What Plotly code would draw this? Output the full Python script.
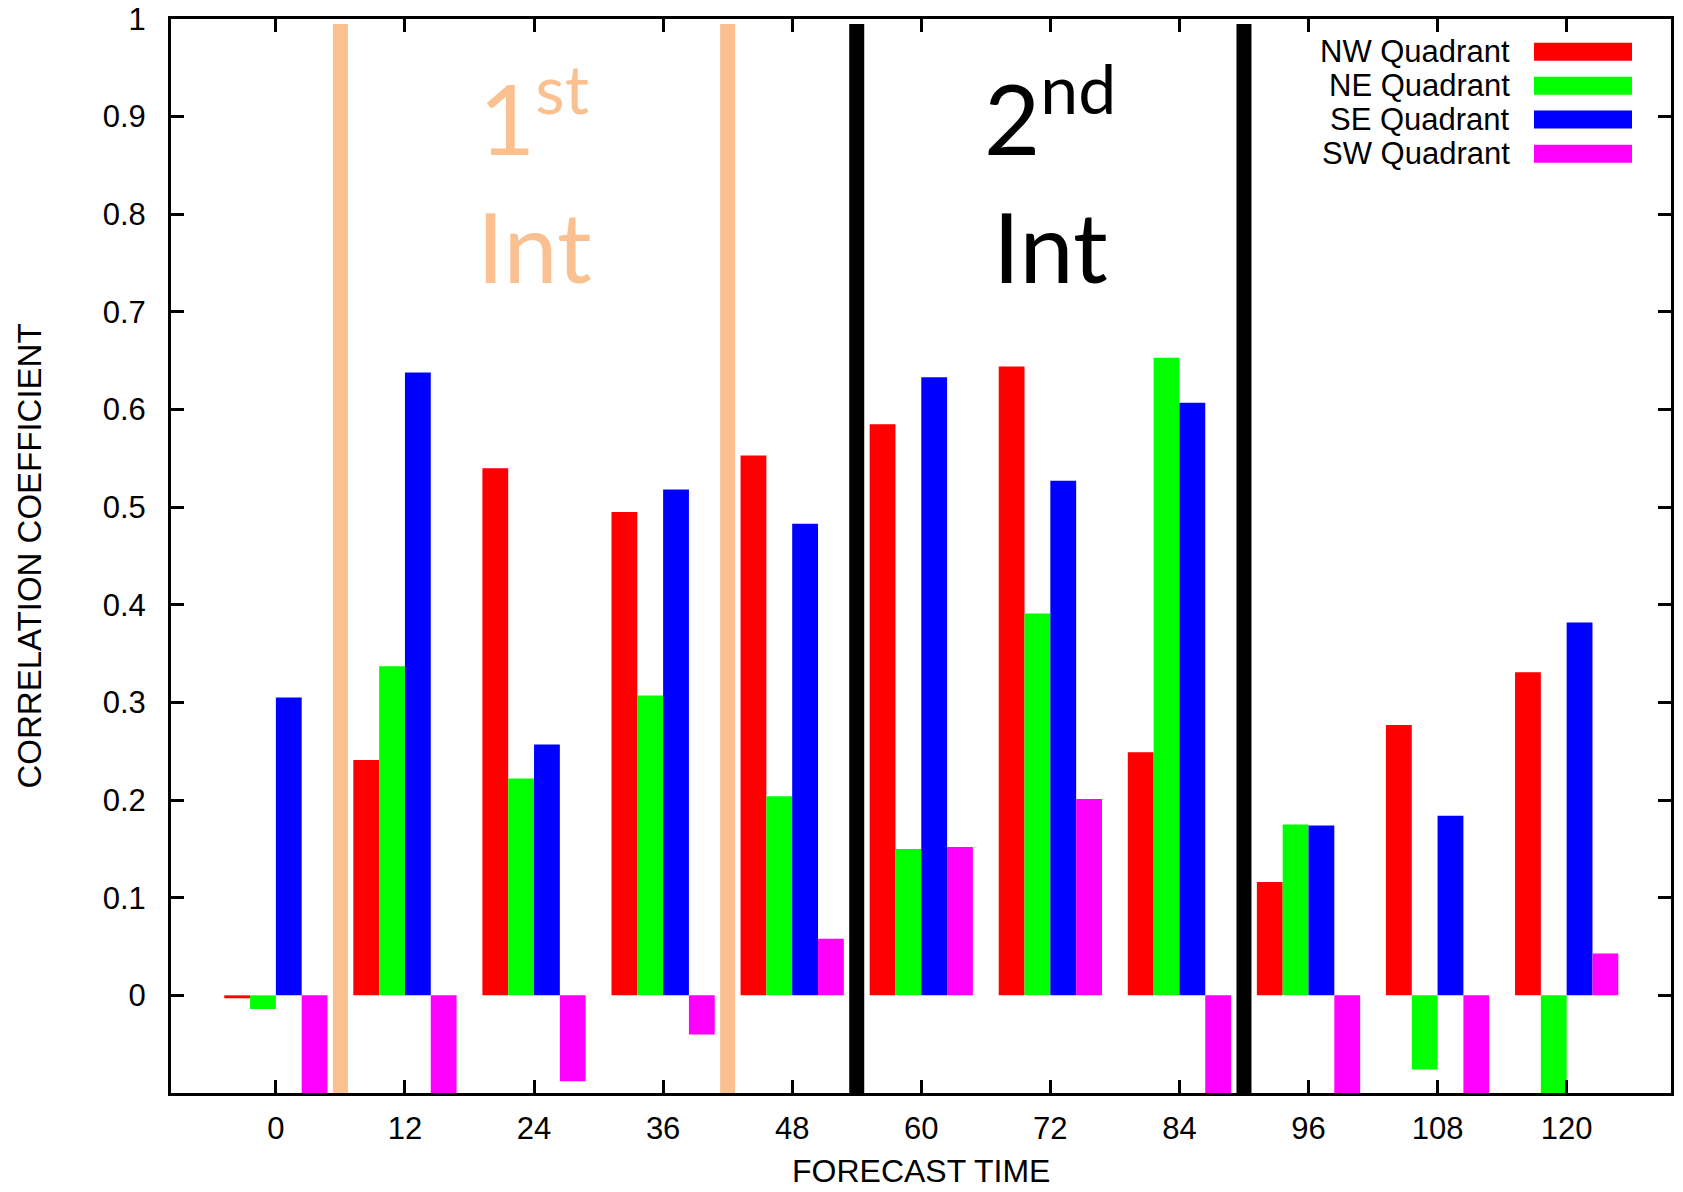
import plotly.graph_objects as go

# Forecast lead times (hours)
forecast_time = [0, 12, 24, 36, 48, 60, 72, 84, 96, 108, 120]

# Correlation coefficient per quadrant
nw_quadrant = [-0.003, 0.241, 0.540, 0.495, 0.553, 0.585, 0.644, 0.249, 0.116, 0.277, 0.331]
ne_quadrant = [-0.014, 0.337, 0.222, 0.307, 0.204, 0.150, 0.391, 0.653, 0.175, -0.076, -0.13]
se_quadrant = [0.305, 0.638, 0.257, 0.518, 0.483, 0.633, 0.527, 0.607, 0.174, 0.184, 0.382]
sw_quadrant = [-0.13, -0.13, -0.088, -0.040, 0.058, 0.152, 0.201, -0.13, -0.13, -0.13, 0.043]

series_names = ["NW Quadrant", "NE Quadrant", "SE Quadrant", "SW Quadrant"]
series_values = [nw_quadrant, ne_quadrant, se_quadrant, sw_quadrant]
series_colors = ["#ff0000", "#00ff00", "#0000ff", "#ff00ff"]

y_ticks = [0, 0.1, 0.2, 0.3, 0.4, 0.5, 0.6, 0.7, 0.8, 0.9, 1]
y_tick_text = ["0", "0.1", "0.2", "0.3", "0.4", "0.5", "0.6", "0.7", "0.8", "0.9", "1"]

# Intensification period boundaries
first_int_bounds = [6, 42]
second_int_bounds = [54, 90]

W, H = 1683, 1192
ML, MR, MT, MB = 171, 12, 19, 99
PEACH = "#fac090"
AXIS_FONT = "Liberation Sans, Arial, Helvetica, sans-serif"
LABEL_FONT = "Lato, Carlito, Calibri, sans-serif"


def px_to_paper_x(px):
    return (px - ML) / (W - ML - MR)


def px_to_paper_y(py):
    return (H - MB - py) / (H - MT - MB)


fig = go.Figure()
for name, vals, col in zip(series_names, series_values, series_colors):
    fig.add_trace(go.Bar(
        x=forecast_time, y=vals, name=name,
        marker=dict(color=col, line=dict(width=0)),
        showlegend=False,
    ))

shapes = []
for xv in first_int_bounds:
    shapes.append(dict(type="line", xref="x", yref="y", x0=xv, x1=xv, y0=-0.1, y1=0.995,
                       line=dict(color=PEACH, width=15), layer="above"))
for xv in second_int_bounds:
    shapes.append(dict(type="line", xref="x", yref="y", x0=xv, x1=xv, y0=-0.1, y1=0.995,
                       line=dict(color="black", width=15), layer="above"))

annotations = []
# Legend: right-aligned labels with colour swatches on the right
row_y = [51.7, 85.7, 119.5, 153.8]
for name, col, ry in zip(series_names, series_colors, row_y):
    shapes.append(dict(type="rect", xref="paper", yref="paper",
                       x0=px_to_paper_x(1534), x1=px_to_paper_x(1632),
                       y0=px_to_paper_y(ry + 9), y1=px_to_paper_y(ry - 9),
                       fillcolor=col, line=dict(width=0), layer="above"))
    annotations.append(dict(xref="paper", yref="paper", x=px_to_paper_x(1512), y=px_to_paper_y(ry),
                            xanchor="right", yanchor="middle", text=name, showarrow=False,
                            font=dict(family=AXIS_FONT, size=31, color="black")))

# Intensification period labels
for xc, color, ordinal in [(sum(first_int_bounds) / 2, PEACH, "1<sup>st</sup>"),
                           (sum(second_int_bounds) / 2, "black", "2<sup>nd</sup>")]:
    annotations.append(dict(xref="x", yref="y", x=xc, y=0.837, xanchor="center", yanchor="bottom",
                            text=ordinal, showarrow=False,
                            font=dict(family=LABEL_FONT, size=97, color=color)))
    annotations.append(dict(xref="x", yref="y", x=xc, y=0.7676, xanchor="center", yanchor="middle",
                            text="Int", showarrow=False,
                            font=dict(family=LABEL_FONT, size=97, color=color)))

# x-axis title, placed below the tick labels
annotations.append(dict(xref="paper", yref="paper", x=0.5, y=px_to_paper_y(1171),
                        xanchor="center", yanchor="middle", text="FORECAST TIME", showarrow=False,
                        font=dict(family=AXIS_FONT, size=32, color="black")))

fig.update_layout(
    width=W, height=H,
    margin=dict(l=ML, r=MR, t=MT, b=MB, autoexpand=False),
    plot_bgcolor="white", paper_bgcolor="white",
    barmode="group", bargap=0.2, bargroupgap=0,
    shapes=shapes, annotations=annotations,
    font=dict(family=AXIS_FONT, color="black"),
)
fig.update_xaxes(
    range=[-9.75, 129.7], tickvals=forecast_time, ticktext=[str(v) for v in forecast_time],
    showline=True, linecolor="black", linewidth=3, mirror="ticks", automargin=False,
    ticks="inside", ticklen=13, tickwidth=2.5, tickcolor="black",
    showgrid=False, zeroline=False, tickfont=dict(size=31), ticklabelstandoff=6,
)
fig.update_yaxes(
    range=[-0.1, 1.0], tickvals=y_ticks, ticktext=y_tick_text,
    showline=True, linecolor="black", linewidth=3, mirror="ticks", automargin=False,
    ticks="inside", ticklen=13, tickwidth=2.5, tickcolor="black",
    showgrid=False, zeroline=False, tickfont=dict(size=31), ticklabelstandoff=16,
    title=dict(text="CORRELATION COEFFICIENT", font=dict(size=33), standoff=52),
)

fig.write_html("out.html")
